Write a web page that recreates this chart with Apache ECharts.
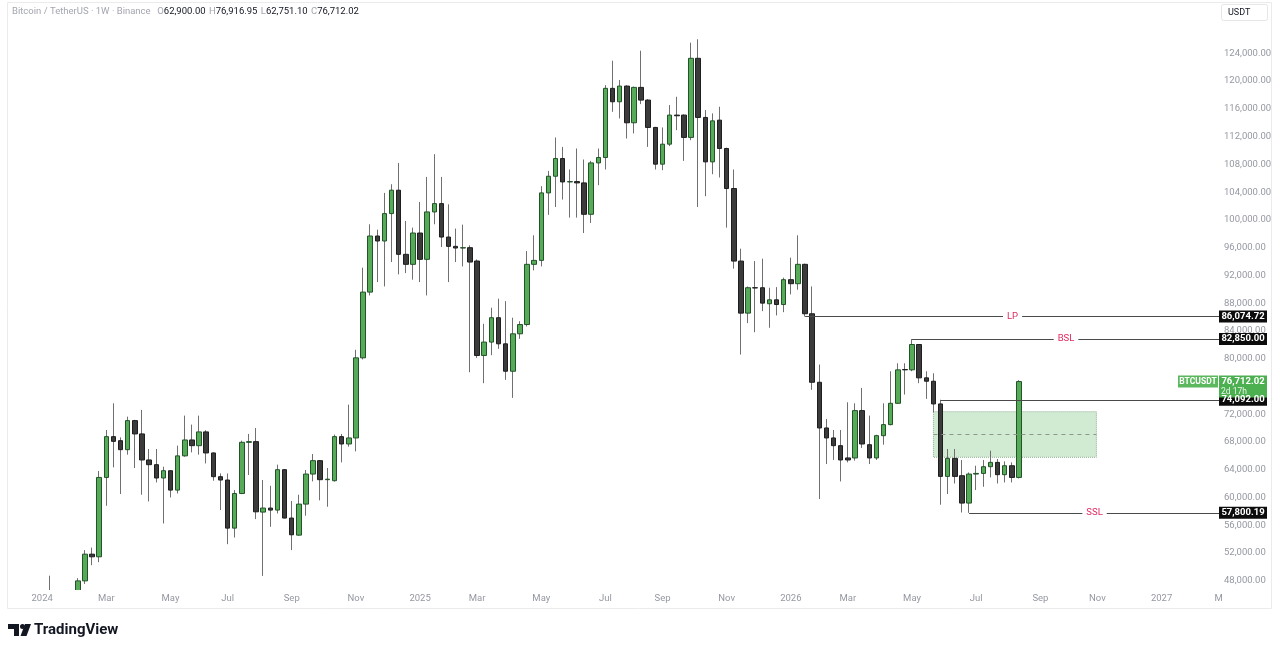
<!DOCTYPE html>
<html><head><meta charset="utf-8">
<script src="https://cdn.jsdelivr.net/npm/echarts@6/dist/echarts.min.js"></script>
<style>html,body{margin:0;padding:0;background:#fff;}#c{width:1280px;height:651px;}</style>
</head><body><div id="c"></div>
<script>
// ---------- DATA ----------
const dates = [
'2024-01-08','2024-01-15','2024-01-22','2024-01-29','2024-02-05','2024-02-12','2024-02-19','2024-02-26','2024-03-04','2024-03-11',
'2024-03-18','2024-03-25','2024-04-01','2024-04-08','2024-04-15','2024-04-22','2024-04-29','2024-05-06','2024-05-13','2024-05-20',
'2024-05-27','2024-06-03','2024-06-10','2024-06-17','2024-06-24','2024-07-01','2024-07-08','2024-07-15','2024-07-22','2024-07-29',
'2024-08-05','2024-08-12','2024-08-19','2024-08-26','2024-09-02','2024-09-09','2024-09-16','2024-09-23','2024-09-30','2024-10-07',
'2024-10-14','2024-10-21','2024-10-28','2024-11-04','2024-11-11','2024-11-18','2024-11-25','2024-12-02','2024-12-09','2024-12-16',
'2024-12-23','2024-12-30','2025-01-06','2025-01-13','2025-01-20','2025-01-27','2025-02-03','2025-02-10','2025-02-17','2025-02-24',
'2025-03-03','2025-03-10','2025-03-17','2025-03-24','2025-03-31','2025-04-07','2025-04-14','2025-04-21','2025-04-28','2025-05-05',
'2025-05-12','2025-05-19','2025-05-26','2025-06-02','2025-06-09','2025-06-16','2025-06-23','2025-06-30','2025-07-07','2025-07-14',
'2025-07-21','2025-07-28','2025-08-04','2025-08-11','2025-08-18','2025-08-25','2025-09-01','2025-09-08','2025-09-15','2025-09-22',
'2025-09-29','2025-10-06','2025-10-13','2025-10-20','2025-10-27','2025-11-03','2025-11-10','2025-11-17','2025-11-24','2025-12-01',
'2025-12-08','2025-12-15','2025-12-22','2025-12-29','2026-01-05','2026-01-12','2026-01-19','2026-01-26','2026-02-02','2026-02-09',
'2026-02-16','2026-02-23','2026-03-02','2026-03-09','2026-03-16','2026-03-23','2026-03-30','2026-04-06','2026-04-13','2026-04-20',
'2026-04-27','2026-05-04','2026-05-11','2026-05-18','2026-05-25','2026-06-01','2026-06-08','2026-06-15','2026-06-22','2026-06-29',
'2026-07-06','2026-07-13','2026-07-20','2026-07-27','2026-08-03','2026-08-10','2026-08-17'
];
const opens = [
44100,41700,41600,42000,42600,48000,51850,51470,62900,68780,
68200,66900,71090,69170,65420,64740,62820,63870,61080,66010,
68300,67480,69460,66430,63010,62530,55600,60590,67960,68060,
57910,58490,58200,64020,57050,54590,59060,63390,65320,62580,
62430,68780,67720,68590,80130,89600,97680,96960,100910,104280,
95040,93600,98110,94320,101150,102350,97530,96190,95950,96000,
94080,80470,82400,85910,82150,78200,83590,84930,93600,94170,
103890,106290,108840,105470,105520,105330,100810,108210,108990,118950,
117020,119280,113990,119090,117260,113320,108030,110910,115100,115100,
111880,123280,114760,108360,114370,110290,104520,94070,86570,90230,
90230,87920,88490,87810,91390,90810,93600,86480,76610,70030,
68590,67480,65710,65710,72530,67620,65710,68920,70510,73580,
78450,78400,82050,77250,76760,73490,63050,65650,63150,59210,
63390,63480,64450,65070,63300,64590,62900
];
const highs = [
48750,43200,42800,43900,48390,52430,52800,63830,69740,73580,
68680,71660,71200,72630,67000,67000,64450,63900,67480,71810,
70510,71810,69700,66500,63480,63480,61080,68200,69170,70030,
62530,61700,64740,64100,59500,60410,63970,66280,65400,64260,
69070,69170,73390,81290,93120,99370,98600,103890,105140,108210,
99850,98890,102590,106190,109470,106190,102250,98750,99320,96340,
94300,85040,87350,88650,88300,85910,85410,95520,97780,104860,
107060,111870,110520,107260,110290,108700,108500,110290,119420,122930,
120150,119400,119200,124370,117400,113400,113320,116540,117740,115200,
125530,126020,115820,115340,116300,110400,107260,95860,90400,94070,
94410,90230,90320,91680,94560,97780,93700,90420,79170,71330,
69740,69740,73730,73580,75800,71810,69050,73580,78200,79350,
79350,82850,82100,78200,77910,74092,67000,67000,65420,63620,
64590,65420,66760,65560,65220,65070,76916.95
];
const lows = [
41500,40300,38500,41800,42300,47560,50260,50700,58820,64350,
60510,66180,64260,60410,59440,62180,56270,60020,60590,65880,
66510,66180,64920,62430,58200,53290,54240,60500,63250,56900,
48720,55790,57710,57000,52430,54500,57390,62330,59600,58680,
62300,65070,67330,66660,79900,89120,91040,90420,93930,92150,
92340,91390,91040,89120,99370,96090,91040,93930,93300,78060,
80130,76480,80510,81430,76960,74360,82870,84650,92730,93300,
100730,101860,102930,100330,100330,98110,99560,105000,107260,115570,
114620,111730,112460,116680,110520,107260,107160,110630,112930,108500,
111490,101860,103410,106580,106110,98890,92980,80610,85130,83820,
86860,84460,86240,86710,89270,89940,86074.72,75520,59790,64830,
65420,62330,65070,65320,67150,64830,65420,67620,70400,73500,
74840,78200,76480,74220,72280,58970,60510,62030,57850,57800.19,
61080,61560,62910,62030,62180,62180,62751.10
];
const closes = [
41700,41600,42000,42600,48000,51850,51470,62900,68780,68100,
66900,71090,69170,65420,64740,62820,63870,61080,66010,68300,
67480,69460,66430,63010,62530,55600,60590,67960,68060,57950,
58490,58200,64020,57050,54640,59060,63390,65320,62580,62650,
68780,67720,68590,80130,89600,97680,96960,100910,104280,95040,
93600,98110,94320,101150,102350,97530,96190,95950,96000,93930,
80470,82400,85910,82150,78200,83590,84930,93600,94170,103890,
106290,108840,105470,105520,105330,100810,108210,108990,118950,117020,
119280,113990,119090,117260,113320,108030,110910,115100,115000,111880,
123280,114760,108360,114270,110290,104520,94070,86570,90230,90200,
88010,88490,87810,91390,90810,93600,86480,76610,70030,68590,
67480,65420,65420,72530,67720,65710,68920,70510,73580,78400,
78400,82050,77250,76760,73490,63050,65650,63050,59210,63390,
63480,64450,65070,63300,64590,62900,76712.02
];
const yTicks = [48000,52000,56000,60000,64000,68000,72000,76000,80000,84000,88000,92000,96000,100000,104000,108000,112000,116000,120000,124000];
const xTickDates = ['2024-01-01','2024-03-04','2024-05-06','2024-07-01','2024-09-02','2024-11-04','2025-01-06','2025-03-03','2025-05-05','2025-07-07','2025-09-01','2025-11-03','2026-01-05','2026-03-02','2026-05-04','2026-07-06','2026-09-07','2026-11-02','2027-01-04','2027-03-01'];
const xTickLabels = ['2024','Mar','May','Jul','Sep','Nov','2025','Mar','May','Jul','Sep','Nov','2026','Mar','May','Jul','Sep','Nov','2027','M'];
const levelNames = ['LP','BSL','','SSL'];
const levelValues = [86074.72, 82850.00, 74092.00, 57800.19];
const levelStarts = ['2026-01-19','2026-05-04','2026-06-01','2026-06-29'];
const zoneDates = ['2026-05-25','2026-11-01'];
const zonePrices = [72373, 65804];
const headerTitle = 'Bitcoin / TetherUS · 1W · Binance';
const ohlcLetters = ['O','H','L','C'];
const symbolName = 'BTCUSDT';
const countdown = '2d 17h';
const quoteCurrency = 'USDT';

// ---------- CHART ----------
const DAY = 86400000;
const ts = d => Date.parse(d + 'T00:00:00Z');
const base = ts(dates[0]);
const xMin = base - 41.53 * DAY;
const xMax = base + 1149.33 * DAY;
const yMin = 46687, yMax = 131390;
const fmt = v => v.toLocaleString('en-US', {minimumFractionDigits:2, maximumFractionDigits:2});
const xTickTs = xTickDates.map(ts);
const FONT = 'Roboto, "Noto Sans", sans-serif';

const wickData = dates.map((d,i)=>[ts(d), opens[i], closes[i], lows[i], highs[i]]);
const bodyData = dates.map((d,i)=>[ts(d), opens[i], closes[i], Math.min(opens[i],closes[i]), Math.max(opens[i],closes[i])]);

const zoneMid = (zonePrices[0] + zonePrices[1]) / 2;
const lineData = levelValues.map((v,i)=>[
  {coord:[ts(levelStarts[i]), v], label:{show: levelNames[i] !== '', formatter: levelNames[i]}},
  {coord:[xMax, v]}
]);
lineData.push([
  {coord:[ts(zoneDates[0]), zoneMid], lineStyle:{color:'#8d958d', type:[4,4], width:1}, label:{show:false}},
  {coord:[ts(zoneDates[1]), zoneMid]}
]);

const chart = echarts.init(document.getElementById('c'), null, {renderer:'canvas'});
chart.setOption({
  animation:false,
  backgroundColor:'#ffffff',
  grid:{left:7, right:60, top:2, bottom:61},
  xAxis:{type:'value', min:xMin, max:xMax, z:20,
    axisLine:{show:false}, axisTick:{show:false}, splitLine:{show:false},
    axisLabel:{customValues:xTickTs, formatter:v=>{const i=xTickTs.indexOf(v);return i>=0?xTickLabels[i]:'';},
      color:'#9598a1', fontSize:9.5, fontFamily:FONT, margin:4}},
  yAxis:{type:'value', position:'right', min:yMin, max:yMax, z:20,
    axisLine:{show:false}, axisTick:{show:false}, splitLine:{show:false},
    axisLabel:{customValues:yTicks, formatter:v=>fmt(v), color:'#9598a1', fontSize:9.5, fontFamily:FONT, margin:4, align:'left'}},
  series:[
    {type:'candlestick', name:'wick', data:wickData, barWidth:1, clip:true, silent:true,
      itemStyle:{color:'#707070', color0:'#707070', borderColor:'#707070', borderColor0:'#707070', borderWidth:1},
      markArea:{silent:true,
        itemStyle:{color:'rgba(76,175,80,0.26)', borderColor:'#93ad94', borderWidth:1, borderType:'dotted'},
        data:[[{coord:[ts(zoneDates[0]), zonePrices[0]]},{coord:[ts(zoneDates[1]), zonePrices[1]]}]]}
    },
    {type:'candlestick', name:'BTCUSDT', data:bodyData, barWidth:5, clip:true, silent:true,
      itemStyle:{color:'#55ab58', color0:'#3b3b3b', borderColor:'#24532a', borderColor0:'#1e1e1e', borderWidth:1},
      markLine:{silent:true, symbol:['none','none'], animation:false,
        lineStyle:{color:'#4a4a4a', width:1, type:'solid'},
        label:{position:'middle', color:'#e2295f', fontSize:9.5, fontFamily:FONT, backgroundColor:'#ffffff', padding:[1,4], distance:-6},
        data:lineData}
    }
  ]
});

// overlays placed through the chart's own scale
const g = [];
// mask below the price pane (the pane clips at its bottom edge)
g.push({type:'rect', z:8, shape:{x:0, y:590, width:1219, height:61}, style:{fill:'#ffffff'}});
g.push({type:'rect', z:9, shape:{x:7.5, y:2.5, width:1264, height:606}, style:{fill:'none', stroke:'#ebebeb', lineWidth:1}});
levelValues.forEach(v=>{
  const y = chart.convertToPixel({yAxisIndex:0}, v);
  g.push({type:'rect', z:100, shape:{x:1219, y:y-6, width:48, height:12}, style:{fill:'#0c0c0c'}});
  g.push({type:'text', z:101, x:1243, y:y, style:{text:fmt(v), fill:'#ffffff', font:'bold 9.5px '+FONT, align:'center', verticalAlign:'middle', textAlign:'center', textVerticalAlign:'middle'}});
});
const last = closes.length - 1;
const yc = chart.convertToPixel({yAxisIndex:0}, closes[last]);
g.push({type:'rect', z:100, shape:{x:1219, y:yc-6, width:48, height:22}, style:{fill:'#4caf50'}});
g.push({type:'text', z:101, x:1243, y:yc, style:{text:fmt(closes[last]), fill:'#ffffff', font:'bold 9.5px '+FONT, align:'center', verticalAlign:'middle', textAlign:'center', textVerticalAlign:'middle'}});
g.push({type:'text', z:101, x:1234, y:yc+10.5, style:{text:countdown, fill:'#e8f5e9', font:'8.5px '+FONT, align:'center', verticalAlign:'middle', textAlign:'center', textVerticalAlign:'middle'}});
g.push({type:'rect', z:100, shape:{x:1178, y:yc-6, width:40, height:12}, style:{fill:'#5cb85f'}});
g.push({type:'text', z:101, x:1198, y:yc, style:{text:symbolName, fill:'#ffffff', font:'bold 8.5px '+FONT, align:'center', verticalAlign:'middle', textAlign:'center', textVerticalAlign:'middle'}});
// header
g.push({type:'rect', z:99, shape:{x:8, y:3, width:330, height:16}, style:{fill:'rgba(255,255,255,0.85)'}});
const vals = [opens[last], highs[last], lows[last], closes[last]];
let hdr = '{g|' + headerTitle + '}  ';
ohlcLetters.forEach((l,i)=>{ hdr += '{g|' + l + '}{v|' + fmt(vals[i]) + '} '; });
g.push({type:'text', z:101, x:12, y:11.5, style:{text:hdr, verticalAlign:'middle', textVerticalAlign:'middle',
  rich:{g:{fill:'#a3a6af', fontSize:9.5, fontFamily:FONT}, v:{fill:'#131722', fontSize:9.5, fontFamily:FONT}}}});
// currency box
g.push({type:'rect', z:100, shape:{x:1221.5, y:4.5, width:46, height:16, r:2}, style:{fill:'#ffffff', stroke:'#e6e6e6', lineWidth:1}});
g.push({type:'text', z:101, x:1228, y:12.5, style:{text:quoteCurrency, fill:'#131722', font:'9px '+FONT, verticalAlign:'middle', textVerticalAlign:'middle'}});
// TradingView logo
g.push({type:'polygon', z:101, shape:{points:[[8,624],[19,624],[19,636],[14,636],[14,629],[8,629]]}, style:{fill:'#131722'}});
g.push({type:'circle', z:101, shape:{cx:22.5, cy:626.5, r:2.5}, style:{fill:'#131722'}});
g.push({type:'polygon', z:101, shape:{points:[[25,624],[31,624],[26.5,636],[20.5,636]]}, style:{fill:'#131722'}});
g.push({type:'text', z:101, x:34, y:630, style:{text:'TradingView', fill:'#131722', font:'bold 15px '+FONT, verticalAlign:'middle', textVerticalAlign:'middle'}});
chart.setOption({graphic:g});
</script>
</body></html>
